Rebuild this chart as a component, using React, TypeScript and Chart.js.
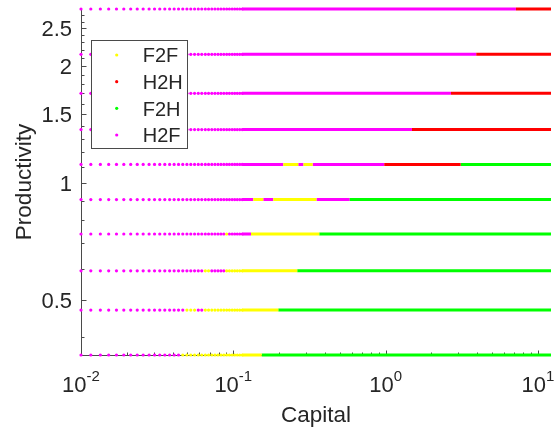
import React, { useEffect, useRef } from "react";
import { Chart, registerables } from "chart.js";

Chart.register(...registerables);

// Productivity levels (one row of markers per level)
const productivityLevels = [0.36, 0.47, 0.593, 0.738, 0.905, 1.115, 1.371, 1.7, 2.142, 2.803];

// Coarse end of the capital grid, where individual markers are still distinguishable
const capitalGrid = [
  0.01, 0.0116, 0.0134, 0.0152, 0.0171, 0.0191, 0.0212, 0.0234, 0.0256, 0.028,
  0.0304, 0.0329, 0.0355, 0.0382, 0.0409, 0.0437, 0.0466, 0.0496, 0.0526, 0.0557,
  0.0589, 0.0621, 0.0655, 0.0688, 0.0723, 0.0758, 0.0794, 0.083, 0.0867, 0.0905,
  0.0943, 0.0983, 0.1022, 0.1062, 0.1103, 0.1145,
];
// Upper end of the capital grid (dense part is drawn as a continuous band)
const capitalMax = 12.2;

const policyNames = ["F2F", "H2H", "F2H", "H2F"];
const policyColors = ["#ffff00", "#ff0000", "#00ff00", "#ff00ff"];

// Capital thresholds at which the chosen policy switches, for each productivity row
const switchCapital = [
  [0.045, 0.1537],
  [0.048, 0.0573, 0.0638, 0.1975],
  [0.0638, 0.0705, 0.0886, 0.263],
  [0.0886, 0.0924, 0.1307, 0.367],
  [0.1353, 0.1574, 0.1831, 0.3518, 0.582],
  [0.213, 0.2672, 0.289, 0.332, 0.9806, 3.112],
  [1.491],
  [2.688],
  [3.94],
  [7.18],
];
// Policy chosen on each interval between the thresholds above
const policySequence = [
  ["H2F", "F2F", "F2H"],
  ["H2F", "F2F", "H2F", "F2F", "F2H"],
  ["H2F", "F2F", "H2F", "F2F", "F2H"],
  ["H2F", "F2F", "H2F", "F2F", "F2H"],
  ["H2F", "F2F", "H2F", "F2F", "H2F", "F2H"],
  ["H2F", "F2F", "H2F", "F2F", "H2F", "H2H", "F2H"],
  ["H2F", "H2H"],
  ["H2F", "H2H"],
  ["H2F", "H2H"],
  ["H2F", "H2H"],
];

const xMajorTicks = [0.01, 0.1, 1, 10];
const xMajorExponents = ["-2", "-1", "0", "1"];
const xMinorTicks = [
  0.02, 0.03, 0.04, 0.05, 0.06, 0.07, 0.08, 0.09,
  0.2, 0.3, 0.4, 0.5, 0.6, 0.7, 0.8, 0.9,
  2, 3, 4, 5, 6, 7, 8, 9,
];
const yMajorTicks = [0.5, 1, 1.5, 2, 2.5];
const yMajorLabels = ["0.5", "1", "1.5", "2", "2.5"];
const yMinorTicks = [
  0.4, 0.6, 0.7, 0.8, 0.9, 1.1, 1.2, 1.3, 1.4, 1.6, 1.7, 1.8, 1.9,
  2.1, 2.2, 2.3, 2.4, 2.6, 2.7,
];

const xTitle = "Capital";
const yTitle = "Productivity";

const FONT = "'Liberation Sans', Arial, Helvetica, sans-serif";
const TEXT = "#262626";
const AXIS = "#4a4a4a";
const DOT_R = 1.6;

function policyAt(row: number, k: number): string {
  const sw = switchCapital[row];
  let i = 0;
  while (i < sw.length && k >= sw[i]) i++;
  return policySequence[row][i];
}

function buildDatasets() {
  const lineStart = capitalGrid[capitalGrid.length - 1];
  const dotSets: any[] = [];
  const lineSets: any[] = [];
  policyNames.forEach((p, pi) => {
    const dots: any[] = [];
    const lines: any[] = [];
    productivityLevels.forEach((z, r) => {
      capitalGrid.forEach((k) => {
        if (policyAt(r, k) === p) dots.push({ x: k, y: z });
      });
      const bounds = [0, ...switchCapital[r], Infinity];
      for (let j = 0; j < bounds.length - 1; j++) {
        if (policySequence[r][j] !== p) continue;
        const a = Math.max(bounds[j], lineStart);
        const b = Math.min(bounds[j + 1], capitalMax);
        if (a < b) {
          lines.push({ x: a, y: z });
          lines.push({ x: b, y: z });
          lines.push({ x: b, y: null });
        }
      }
    });
    lineSets.push({
      label: p + "-band",
      data: lines,
      showLine: true,
      borderColor: policyColors[pi],
      borderWidth: 3,
      pointRadius: 0,
      spanGaps: false,
      clip: false,
      order: 2,
    });
    dotSets.push({
      label: p,
      data: dots,
      showLine: false,
      pointRadius: DOT_R,
      pointBorderWidth: 0,
      backgroundColor: policyColors[pi],
      borderColor: policyColors[pi],
      clip: false,
      order: 1,
    });
  });
  return [...lineSets, ...dotSets];
}

const axesPlugin = {
  id: "matlabAxes",
  beforeDatasetsDraw(chart: any) {
    const { ctx, chartArea: ca, scales } = chart;
    const xs = scales.x;
    const ys = scales.y;
    const x0 = Math.floor(ca.left) + 0.5;
    const y0 = Math.floor(ca.bottom) + 0.5;
    ctx.save();
    ctx.strokeStyle = AXIS;
    ctx.lineWidth = 1;
    ctx.beginPath();
    ctx.moveTo(x0, Math.floor(ca.top));
    ctx.lineTo(x0, y0);
    ctx.lineTo(Math.ceil(ca.right), y0);
    ctx.stroke();

    ctx.beginPath();
    yMajorTicks.forEach((v) => {
      const y = Math.round(ys.getPixelForValue(v)) + 0.5;
      ctx.moveTo(x0, y);
      ctx.lineTo(x0 + 5, y);
    });
    yMinorTicks.forEach((v) => {
      const y = Math.round(ys.getPixelForValue(v)) + 0.5;
      ctx.moveTo(x0, y);
      ctx.lineTo(x0 + 3, y);
    });
    xMajorTicks.forEach((v) => {
      const x = Math.round(xs.getPixelForValue(v)) + 0.5;
      ctx.moveTo(x, y0);
      ctx.lineTo(x, y0 - 5);
    });
    xMinorTicks.forEach((v) => {
      const x = Math.round(xs.getPixelForValue(v)) + 0.5;
      ctx.moveTo(x, y0);
      ctx.lineTo(x, y0 - 3);
    });
    ctx.stroke();

    // y tick labels
    ctx.fillStyle = TEXT;
    ctx.font = `22px ${FONT}`;
    ctx.textAlign = "right";
    ctx.textBaseline = "alphabetic";
    yMajorTicks.forEach((v, i) => {
      const y = ys.getPixelForValue(v);
      ctx.fillText(yMajorLabels[i], 72, y + 8);
    });

    // x tick labels 10^e
    xMajorTicks.forEach((v, i) => {
      const x = xs.getPixelForValue(v);
      ctx.font = `22px ${FONT}`;
      const wBase = ctx.measureText("10").width;
      ctx.font = `15px ${FONT}`;
      const wExp = ctx.measureText(xMajorExponents[i]).width;
      const left = x - (wBase + wExp) / 2;
      ctx.textAlign = "left";
      ctx.font = `22px ${FONT}`;
      ctx.fillText("10", left, 392);
      ctx.font = `15px ${FONT}`;
      ctx.fillText(xMajorExponents[i], left + wBase, 381);
    });

    // axis titles
    ctx.font = `22.5px ${FONT}`;
    ctx.textAlign = "center";
    ctx.fillText(xTitle, (ca.left + ca.right) / 2, 422);
    ctx.save();
    ctx.translate(31, (ca.top + ca.bottom) / 2);
    ctx.rotate(-Math.PI / 2);
    ctx.fillText(yTitle, 0, 0);
    ctx.restore();
    ctx.restore();
  },
  afterDatasetsDraw(chart: any) {
    const { ctx } = chart;
    ctx.save();
    ctx.fillStyle = "#ffffff";
    ctx.fillRect(91.5, 40.5, 96, 108);
    ctx.strokeStyle = AXIS;
    ctx.lineWidth = 1;
    ctx.strokeRect(91.5, 40.5, 96, 108);
    const rowY = [55, 81.7, 108.3, 135];
    policyNames.forEach((p, i) => {
      ctx.fillStyle = policyColors[i];
      ctx.beginPath();
      ctx.arc(116.7, rowY[i], DOT_R, 0, Math.PI * 2);
      ctx.fill();
      ctx.fillStyle = TEXT;
      ctx.font = `20px ${FONT}`;
      ctx.textAlign = "left";
      ctx.textBaseline = "alphabetic";
      ctx.fillText(p, 142.7, rowY[i] + 7.2);
    });
    ctx.restore();
  },
};

export default function App() {
  const ref = useRef<HTMLCanvasElement | null>(null);
  useEffect(() => {
    document.body.style.margin = "0";
    const canvas = ref.current;
    if (!canvas) return;
    const chart = new Chart(canvas, {
      type: "scatter",
      data: { datasets: buildDatasets() },
      options: {
        responsive: false,
        animation: false,
        devicePixelRatio: 1,
        layout: { padding: { left: 81, right: 6, top: 9, bottom: 80 } },
        plugins: { legend: { display: false }, tooltip: { enabled: false } },
        scales: {
          x: {
            type: "logarithmic",
            min: capitalGrid[0],
            max: capitalMax,
            display: false,
          },
          y: {
            type: "logarithmic",
            min: productivityLevels[0],
            max: productivityLevels[productivityLevels.length - 1],
            display: false,
          },
        },
      },
      plugins: [axesPlugin],
    } as any);
    return () => chart.destroy();
  }, []);
  return (
    <div style={{ width: 557, height: 435, background: "#fff" }}>
      <canvas ref={ref} width={557} height={435} style={{ display: "block" }} />
    </div>
  );
}
